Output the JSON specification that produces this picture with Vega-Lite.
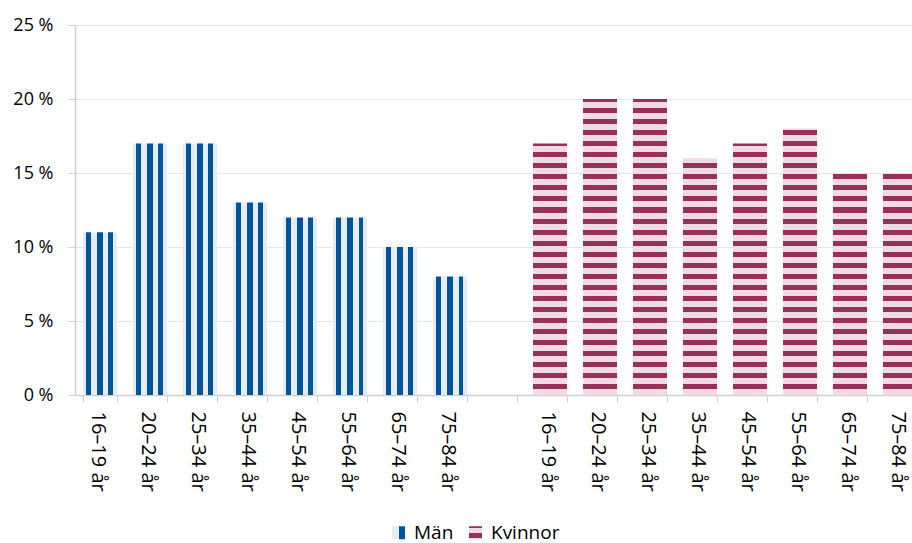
{
  "$schema": "https://vega.github.io/schema/vega-lite/v6.json",
  "autosize": "none",
  "width": 837,
  "height": 370,
  "padding": {"left": 75, "top": 25, "right": 0, "bottom": 148},
  "background": "white",
  "config": {"view": {"stroke": null}, "font": "Open Sans"},
  "params": [
    {"name": "fstops", "value": [
      {"offset": 0, "color": "#f2dae4"},
      {"offset": 0.020325, "color": "#f2dae4"}, {"offset": 0.020325, "color": "#963159"}, {"offset": 0.037263, "color": "#963159"}, {"offset": 0.037263, "color": "#f2dae4"},
      {"offset": 0.057588, "color": "#f2dae4"}, {"offset": 0.057588, "color": "#963159"}, {"offset": 0.074526, "color": "#963159"}, {"offset": 0.074526, "color": "#f2dae4"},
      {"offset": 0.094851, "color": "#f2dae4"}, {"offset": 0.094851, "color": "#963159"}, {"offset": 0.111789, "color": "#963159"}, {"offset": 0.111789, "color": "#f2dae4"},
      {"offset": 0.132114, "color": "#f2dae4"}, {"offset": 0.132114, "color": "#963159"}, {"offset": 0.149051, "color": "#963159"}, {"offset": 0.149051, "color": "#f2dae4"},
      {"offset": 0.169377, "color": "#f2dae4"}, {"offset": 0.169377, "color": "#963159"}, {"offset": 0.186314, "color": "#963159"}, {"offset": 0.186314, "color": "#f2dae4"},
      {"offset": 0.206640, "color": "#f2dae4"}, {"offset": 0.206640, "color": "#963159"}, {"offset": 0.223577, "color": "#963159"}, {"offset": 0.223577, "color": "#f2dae4"},
      {"offset": 0.243902, "color": "#f2dae4"}, {"offset": 0.243902, "color": "#963159"}, {"offset": 0.260840, "color": "#963159"}, {"offset": 0.260840, "color": "#f2dae4"},
      {"offset": 0.281165, "color": "#f2dae4"}, {"offset": 0.281165, "color": "#963159"}, {"offset": 0.298103, "color": "#963159"}, {"offset": 0.298103, "color": "#f2dae4"},
      {"offset": 0.318428, "color": "#f2dae4"}, {"offset": 0.318428, "color": "#963159"}, {"offset": 0.335366, "color": "#963159"}, {"offset": 0.335366, "color": "#f2dae4"},
      {"offset": 0.355691, "color": "#f2dae4"}, {"offset": 0.355691, "color": "#963159"}, {"offset": 0.372629, "color": "#963159"}, {"offset": 0.372629, "color": "#f2dae4"},
      {"offset": 0.392954, "color": "#f2dae4"}, {"offset": 0.392954, "color": "#963159"}, {"offset": 0.409892, "color": "#963159"}, {"offset": 0.409892, "color": "#f2dae4"},
      {"offset": 0.430217, "color": "#f2dae4"}, {"offset": 0.430217, "color": "#963159"}, {"offset": 0.447154, "color": "#963159"}, {"offset": 0.447154, "color": "#f2dae4"},
      {"offset": 0.467480, "color": "#f2dae4"}, {"offset": 0.467480, "color": "#963159"}, {"offset": 0.484417, "color": "#963159"}, {"offset": 0.484417, "color": "#f2dae4"},
      {"offset": 0.504743, "color": "#f2dae4"}, {"offset": 0.504743, "color": "#963159"}, {"offset": 0.521680, "color": "#963159"}, {"offset": 0.521680, "color": "#f2dae4"},
      {"offset": 0.542005, "color": "#f2dae4"}, {"offset": 0.542005, "color": "#963159"}, {"offset": 0.558943, "color": "#963159"}, {"offset": 0.558943, "color": "#f2dae4"},
      {"offset": 0.579268, "color": "#f2dae4"}, {"offset": 0.579268, "color": "#963159"}, {"offset": 0.596206, "color": "#963159"}, {"offset": 0.596206, "color": "#f2dae4"},
      {"offset": 0.616531, "color": "#f2dae4"}, {"offset": 0.616531, "color": "#963159"}, {"offset": 0.633469, "color": "#963159"}, {"offset": 0.633469, "color": "#f2dae4"},
      {"offset": 0.653794, "color": "#f2dae4"}, {"offset": 0.653794, "color": "#963159"}, {"offset": 0.670732, "color": "#963159"}, {"offset": 0.670732, "color": "#f2dae4"},
      {"offset": 0.691057, "color": "#f2dae4"}, {"offset": 0.691057, "color": "#963159"}, {"offset": 0.707995, "color": "#963159"}, {"offset": 0.707995, "color": "#f2dae4"},
      {"offset": 0.728320, "color": "#f2dae4"}, {"offset": 0.728320, "color": "#963159"}, {"offset": 0.745257, "color": "#963159"}, {"offset": 0.745257, "color": "#f2dae4"},
      {"offset": 0.765583, "color": "#f2dae4"}, {"offset": 0.765583, "color": "#963159"}, {"offset": 0.782520, "color": "#963159"}, {"offset": 0.782520, "color": "#f2dae4"},
      {"offset": 0.802846, "color": "#f2dae4"}, {"offset": 0.802846, "color": "#963159"}, {"offset": 0.819783, "color": "#963159"}, {"offset": 0.819783, "color": "#f2dae4"},
      {"offset": 0.840108, "color": "#f2dae4"}, {"offset": 0.840108, "color": "#963159"}, {"offset": 0.857046, "color": "#963159"}, {"offset": 0.857046, "color": "#f2dae4"},
      {"offset": 0.877371, "color": "#f2dae4"}, {"offset": 0.877371, "color": "#963159"}, {"offset": 0.894309, "color": "#963159"}, {"offset": 0.894309, "color": "#f2dae4"},
      {"offset": 0.914634, "color": "#f2dae4"}, {"offset": 0.914634, "color": "#963159"}, {"offset": 0.931572, "color": "#963159"}, {"offset": 0.931572, "color": "#f2dae4"},
      {"offset": 0.951897, "color": "#f2dae4"}, {"offset": 0.951897, "color": "#963159"}, {"offset": 0.968835, "color": "#963159"}, {"offset": 0.968835, "color": "#f2dae4"},
      {"offset": 0.989160, "color": "#f2dae4"}, {"offset": 0.989160, "color": "#963159"}, {"offset": 1, "color": "#963159"}
    ]}
  ],
  "data": {"values": [
    {"sex": "Män", "key": "M|16–19 år", "v": 11},
    {"sex": "Män", "key": "M|20–24 år", "v": 17},
    {"sex": "Män", "key": "M|25–34 år", "v": 17},
    {"sex": "Män", "key": "M|35–44 år", "v": 13},
    {"sex": "Män", "key": "M|45–54 år", "v": 12},
    {"sex": "Män", "key": "M|55–64 år", "v": 12},
    {"sex": "Män", "key": "M|65–74 år", "v": 10},
    {"sex": "Män", "key": "M|75–84 år", "v": 8},
    {"sex": "Kvinnor", "key": "K|16–19 år", "v": 17},
    {"sex": "Kvinnor", "key": "K|20–24 år", "v": 20},
    {"sex": "Kvinnor", "key": "K|25–34 år", "v": 20},
    {"sex": "Kvinnor", "key": "K|35–44 år", "v": 16},
    {"sex": "Kvinnor", "key": "K|45–54 år", "v": 17},
    {"sex": "Kvinnor", "key": "K|55–64 år", "v": 18},
    {"sex": "Kvinnor", "key": "K|65–74 år", "v": 15},
    {"sex": "Kvinnor", "key": "K|75–84 år", "v": 15}
  ]},
  "encoding": {
    "x": {
      "field": "key", "type": "nominal", "sort": null,
      "scale": {
        "domain": ["M|16–19 år", "M|20–24 år", "M|25–34 år", "M|35–44 år", "M|45–54 år", "M|55–64 år", "M|65–74 år", "M|75–84 år", "gap|", "K|16–19 år", "K|20–24 år", "K|25–34 år", "K|35–44 år", "K|45–54 år", "K|55–64 år", "K|65–74 år", "K|75–84 år"],
        "range": [0, 850], "paddingInner": 0.32, "paddingOuter": 0.16
      },
      "axis": {
        "title": null, "labelExpr": "split(datum.label, '|')[1]",
        "labelAngle": 90, "labelAlign": "left", "labelBaseline": "middle",
        "labelFontSize": 20, "labelColor": "#000000", "labelPadding": 9, "labelOffset": -3,
        "tickSize": 7, "tickColor": "#d0d0d0", "tickBand": "extent",
        "domainColor": "#d0d0d0", "domainWidth": 1.5, "grid": false
      }
    },
    "y": {
      "field": "v", "type": "quantitative",
      "scale": {"domain": [0, 25]},
      "axis": {
        "title": null, "values": [0, 5, 10, 15, 20, 25],
        "labelExpr": "datum.value + ' %'",
        "labelFontSize": 18, "labelColor": "#000000", "labelPadding": 15,
        "tickSize": 7, "tickColor": "#d0d0d0",
        "domainColor": "#d0d0d0", "domainWidth": 1.5,
        "grid": true, "gridColor": "#e6e6e6"
      }
    }
  },
  "layer": [
    {
      "mark": {"type": "bar", "opacity": 0},
      "encoding": {
        "color": {
          "field": "sex", "type": "nominal",
          "scale": {"domain": ["Män", "Kvinnor"], "range": [
            {"expr": "{gradient: 'linear', x1: 0, y1: 0, x2: 1, y2: 0, stops: [{offset: 0, color: '#e6ecf4'}, {offset: 0.52, color: '#e6ecf4'}, {offset: 0.52, color: '#00549a'}, {offset: 1, color: '#00549a'}]}"},
            {"expr": "{gradient: 'linear', x1: 0, y1: 0, x2: 0, y2: 1, stops: [{offset: 0, color: '#963159'}, {offset: 0.12, color: '#963159'}, {offset: 0.12, color: '#f2dae4'}, {offset: 0.5, color: '#f2dae4'}, {offset: 0.5, color: '#963159'}, {offset: 0.88, color: '#963159'}, {offset: 0.88, color: '#f2dae4'}, {offset: 1, color: '#f2dae4'}]}"}
          ]},
          "legend": {
            "title": null, "orient": "none", "legendX": 314, "legendY": 498,
            "direction": "horizontal", "symbolType": "square", "symbolSize": 170,
            "symbolOpacity": 1, "symbolStrokeWidth": 0,
            "labelFontSize": 19, "labelColor": "#000000", "labelOffset": 6, "columnPadding": 12
          }
        }
      }
    },
    {
      "transform": [{"filter": "datum.sex === 'Män'"}],
      "mark": {"type": "bar", "color": {
        "gradient": "linear", "x1": 0, "y1": 0, "x2": 1, "y2": 0,
        "stops": [
          {"offset": 0, "color": "#e6ecf4"}, {"offset": 0.1, "color": "#e6ecf4"},
          {"offset": 0.1, "color": "#00549a"}, {"offset": 0.247, "color": "#00549a"},
          {"offset": 0.247, "color": "#e6ecf4"}, {"offset": 0.424, "color": "#e6ecf4"},
          {"offset": 0.424, "color": "#00549a"}, {"offset": 0.574, "color": "#00549a"},
          {"offset": 0.574, "color": "#e6ecf4"}, {"offset": 0.75, "color": "#e6ecf4"},
          {"offset": 0.75, "color": "#00549a"}, {"offset": 0.897, "color": "#00549a"},
          {"offset": 0.897, "color": "#e6ecf4"}, {"offset": 1, "color": "#e6ecf4"}
        ]
      }}
    },
    {
      "transform": [{"filter": "datum.sex === 'Kvinnor'"}],
      "mark": {"type": "bar", "color": {"expr": "{gradient: 'linear', x1: 0, y1: 1, x2: 0, y2: 1 - 20 / datum.v, stops: fstops}"}}
    }
  ]
}
